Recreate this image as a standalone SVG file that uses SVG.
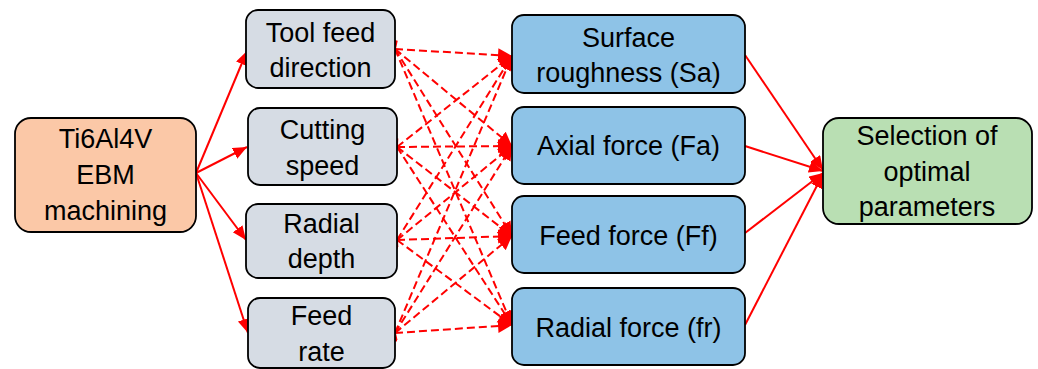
<svg xmlns="http://www.w3.org/2000/svg" width="1038" height="369" viewBox="0 0 1038 369">
  <defs>
    <style>
      .box { stroke: #000; stroke-width: 1.8; }
      .src { fill: #FBC8A7; }
      .par { fill: #D6DCE4; }
      .out { fill: #8EC3E7; }
      .res { fill: #B9DFB3; }
      text { font-family: "Liberation Sans", Arial, sans-serif; font-size: 27px; fill: #000; text-anchor: middle; }
      .solid { stroke: #FF0000; stroke-width: 2; fill: none; }
      .dash { stroke: #FF0000; stroke-width: 2; fill: none; stroke-dasharray: 8 4; }
    </style>
    <marker id="arr" markerUnits="userSpaceOnUse" markerWidth="16" markerHeight="14" refX="14" refY="6" orient="auto">
      <path d="M0,0 L14,6 L0,12 Z" fill="#FF0000"/>
    </marker>
    <marker id="arrBig" markerUnits="userSpaceOnUse" markerWidth="16" markerHeight="16" refX="14" refY="7" orient="auto">
      <path d="M0,0 L14,7 L0,14 Z" fill="#FF0000"/>
    </marker>
    <marker id="open" markerUnits="userSpaceOnUse" markerWidth="12" markerHeight="12" refX="1" refY="5" orient="auto-start-reverse">
      <path d="M8,0 L1,5 L8,10" fill="none" stroke="#FF0000" stroke-width="1.8"/>
    </marker>
  </defs>

  <g id="connectors">
    <!-- source to parameters -->
    <line class="solid" x1="196" y1="173" x2="247" y2="51" marker-end="url(#arr)"/>
    <line class="solid" x1="196" y1="173" x2="247" y2="147" marker-end="url(#arr)"/>
    <line class="solid" x1="196" y1="173" x2="246" y2="240" marker-end="url(#arr)"/>
    <line class="solid" x1="196" y1="173" x2="248" y2="333" marker-end="url(#arr)"/>

    <!-- parameters to outputs (dashed) -->
    <g marker-start="url(#open)" marker-end="url(#arrBig)">
      <line class="dash" x1="395" y1="49" x2="512" y2="56"/>
      <line class="dash" x1="395" y1="49" x2="512" y2="146"/>
      <line class="dash" x1="395" y1="49" x2="512" y2="236"/>
      <line class="dash" x1="395" y1="49" x2="512" y2="325"/>

      <line class="dash" x1="397" y1="147" x2="512" y2="56"/>
      <line class="dash" x1="397" y1="147" x2="512" y2="146"/>
      <line class="dash" x1="397" y1="147" x2="512" y2="236"/>
      <line class="dash" x1="397" y1="147" x2="512" y2="325"/>

      <line class="dash" x1="397" y1="240" x2="512" y2="56"/>
      <line class="dash" x1="397" y1="240" x2="512" y2="146"/>
      <line class="dash" x1="397" y1="240" x2="512" y2="236"/>
      <line class="dash" x1="397" y1="240" x2="512" y2="325"/>

      <line class="dash" x1="395" y1="333" x2="512" y2="56"/>
      <line class="dash" x1="395" y1="333" x2="512" y2="146"/>
      <line class="dash" x1="395" y1="333" x2="512" y2="236"/>
      <line class="dash" x1="395" y1="333" x2="512" y2="325"/>
    </g>

    <!-- outputs to selection -->
    <line class="solid" x1="745" y1="55" x2="823" y2="170" marker-end="url(#arr)"/>
    <line class="solid" x1="745" y1="146" x2="823" y2="171" marker-end="url(#arr)"/>
    <line class="solid" x1="745" y1="233" x2="823" y2="173" marker-end="url(#arr)"/>
    <line class="solid" x1="745" y1="325" x2="823" y2="174" marker-end="url(#arr)"/>
  </g>

  <g id="node-source">
    <rect class="box src" x="15" y="118" width="181" height="114" rx="16"/>
    <text x="105.5" y="148">Ti6Al4V</text>
    <text x="105.5" y="184">EBM</text>
    <text x="105.5" y="220">machining</text>
  </g>

  <g id="node-tool-feed">
    <rect class="box par" x="246" y="10" width="149" height="78" rx="12"/>
    <text x="320.5" y="42">Tool feed</text>
    <text x="320.5" y="77">direction</text>
  </g>
  <g id="node-cutting-speed">
    <rect class="box par" x="248" y="108" width="149" height="77" rx="12"/>
    <text x="322.5" y="139">Cutting</text>
    <text x="322.5" y="175">speed</text>
  </g>
  <g id="node-radial-depth">
    <rect class="box par" x="246" y="204" width="151" height="74" rx="12"/>
    <text x="321.5" y="233">Radial</text>
    <text x="321.5" y="268">depth</text>
  </g>
  <g id="node-feed-rate">
    <rect class="box par" x="248" y="298" width="147" height="70" rx="12"/>
    <text x="321.5" y="325">Feed</text>
    <text x="321.5" y="361">rate</text>
  </g>

  <g id="node-surface-roughness">
    <rect class="box out" x="512" y="15" width="233" height="78" rx="12"/>
    <text x="628.5" y="47">Surface</text>
    <text x="628.5" y="82">roughness (Sa)</text>
  </g>
  <g id="node-axial-force">
    <rect class="box out" x="512" y="107" width="233" height="77" rx="12"/>
    <text x="628.5" y="155">Axial force (Fa)</text>
  </g>
  <g id="node-feed-force">
    <rect class="box out" x="512" y="196" width="233" height="77" rx="12"/>
    <text x="628.5" y="245">Feed force (Ff)</text>
  </g>
  <g id="node-radial-force">
    <rect class="box out" x="512" y="288" width="233" height="77" rx="12"/>
    <text x="628.5" y="337">Radial force (fr)</text>
  </g>

  <g id="node-selection">
    <rect class="box res" x="823" y="118" width="209" height="106" rx="16"/>
    <text x="927" y="145">Selection of</text>
    <text x="927" y="181">optimal</text>
    <text x="927" y="216">parameters</text>
  </g>
</svg>
